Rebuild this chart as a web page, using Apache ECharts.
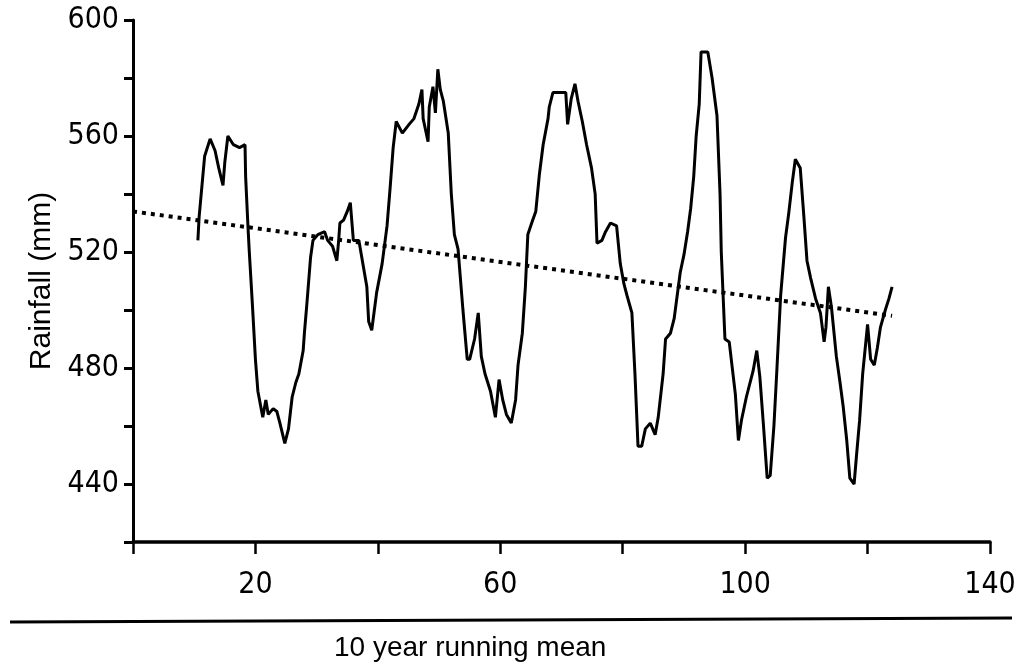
<!DOCTYPE html>
<html>
<head>
<meta charset="utf-8">
<script src="https://cdn.jsdelivr.net/npm/echarts@6/dist/echarts.min.js"></script>
<style>
  html, body { margin: 0; padding: 0; background: #fff; }
  #chart { width: 1014px; height: 668px; }
</style>
</head>
<body>
<div id="chart"></div>
<script>
  // 10 year running mean of rainfall
  var years = [
    10.6, 10.8, 11.4, 11.7, 12.6, 13.4, 14.0, 14.7, 15.0, 15.5, 16.4, 17.4, 18.3, 18.4, 18.8, 19.0,
    19.5, 20.0, 20.4, 21.2, 21.7, 22.1, 22.9, 23.5, 24.0, 24.8, 25.4, 26.0, 26.6, 27.1, 27.8, 28.0,
    28.4, 29.0, 29.4, 30.2, 31.3, 31.8, 32.6, 33.3, 33.6, 33.8, 34.4, 35.0, 35.5, 36.0, 36.9, 38.2,
    38.5, 39.0, 39.8, 40.7, 41.5, 42.0, 42.5, 43.0, 44.0, 45.1, 45.9, 46.7, 47.2, 47.4, 48.2, 48.4,
    49.0, 49.4, 49.8, 50.2, 50.7, 51.5, 52.0, 52.5, 53.1, 53.9, 54.6, 55.0, 55.8, 56.4, 56.9, 57.5,
    58.4, 59.2, 59.8, 60.4, 61.0, 61.8, 62.5, 62.9, 63.6, 64.1, 64.5, 65.3, 65.8, 66.4, 67.0, 67.8,
    68.0, 68.6, 70.7, 71.0, 71.6, 72.2, 72.7, 73.4, 74.1, 74.9, 75.5, 75.8, 76.6, 77.2, 78.0, 79.0,
    79.6, 80.2, 80.7, 81.5, 82.0, 82.5, 83.1, 83.7, 84.5, 85.3, 85.8, 86.6, 87.0, 87.8, 88.4, 88.9,
    89.4, 90.0, 90.6, 91.1, 91.6, 92.0, 92.5, 92.8, 93.9, 94.6, 95.4, 95.9, 96.1, 96.7, 97.4, 98.4,
    98.9, 99.4, 100.2, 101.3, 101.9, 102.4, 103.0, 103.6, 104.1, 104.7, 105.2, 105.8, 106.6, 107.1, 107.7, 108.2,
    109.0, 109.6, 110.1, 110.7, 111.5, 112.3, 112.9, 113.2, 113.6, 114.1, 114.9, 115.5, 116.0, 116.6, 117.1, 117.8,
    118.2, 118.7, 119.2, 120.0, 120.5, 121.1, 121.6, 122.1, 122.9, 123.5, 124.0
  ]
  var rainfall = [
    524, 532, 546, 553, 559, 555, 549, 543, 551, 560, 557, 556, 557, 546, 528, 520,
    502, 483, 472, 463, 469, 464, 466, 465, 461, 454, 459, 470, 475, 478, 486, 492,
    502, 518, 524, 526, 527, 524, 522, 517, 524, 530, 531, 534, 537, 524, 524, 508,
    496, 493, 506, 516, 529, 542, 556, 565, 561, 564, 566, 571, 576, 566, 558, 570,
    577, 568, 583, 576, 572, 561, 540, 526, 521, 500, 483, 483, 490, 499, 484, 478,
    472, 463, 476, 469, 464, 461, 469, 481, 492, 508, 526, 531, 534, 547, 557, 566,
    570, 575, 575, 564, 573, 578, 572, 565, 557, 549, 540, 523, 524, 527, 530, 529,
    516, 509, 505, 499, 478, 453, 453, 459, 461, 457, 463, 478, 490, 492, 497, 505,
    513, 519, 527, 535, 546, 560, 571, 589, 589, 580, 567, 540, 520, 490, 489, 471,
    455, 462, 470, 479, 486, 477, 460, 442, 443, 460, 480, 505, 525, 533, 544, 552,
    549, 532, 517, 511, 504, 499, 489, 494, 508, 501, 484, 475, 467, 455, 442, 440,
    450, 462, 478, 495, 483, 481, 487, 494, 500, 504, 508
  ]
  // linear trend, end points
  var trendYears = [0, 124]
  var trendValues = [534, 498]

  var xLabels = [20, 60, 100, 140]
  var yLabels = [440, 480, 520, 560, 600]

  var runData = years.map(function (y, i) { return [y, rainfall[i]] })
  var trendData = trendYears.map(function (y, i) { return [y, trendValues[i]] })

  var tickFont = '"DejaVu Sans Condensed", "Liberation Sans Narrow", sans-serif'
  var textFont = '"Liberation Sans", Arial, sans-serif'

  var chart = echarts.init(document.getElementById('chart'), null, {renderer: 'canvas'})
  chart.setOption({
    backgroundColor: '#fff',
    animation: false,
    grid: {left: 133, right: 24, top: 20, bottom: 126, outerBoundsMode: 'none'},
    xAxis: {
      type: 'value',
      min: 0,
      max: 140,
      interval: 20,
      splitLine: {show: false},
      axisLine: {lineStyle: {color: '#000', width: 3.5}},
      axisTick: {length: 12, lineStyle: {color: '#000', width: 2.5}},
      axisLabel: {
        margin: 28,
        color: '#000',
        fontSize: 30,
        fontFamily: tickFont,
        formatter: function (v) { return xLabels.indexOf(v) >= 0 ? String(v) : '' }
      }
    },
    yAxis: {
      type: 'value',
      min: 420,
      max: 600,
      interval: 20,
      name: 'Rainfall (mm)',
      nameLocation: 'middle',
      nameGap: 72,
      nameTextStyle: {color: '#000', fontSize: 30, fontFamily: textFont},
      splitLine: {show: false},
      axisLine: {lineStyle: {color: '#000', width: 3}},
      axisTick: {length: 9, lineStyle: {color: '#000', width: 3}},
      axisLabel: {
        margin: 14,
        color: '#000',
        fontSize: 30,
        fontFamily: tickFont,
        formatter: function (v) { return yLabels.indexOf(v) >= 0 ? String(v) : '' }
      }
    },
    graphic: [
      {
        type: 'line',
        shape: {x1: 10, y1: 622, x2: 1012, y2: 618},
        style: {stroke: '#000', lineWidth: 3}
      },
      {
        type: 'text',
        left: 334,
        top: 634,
        style: {
          text: '10 year running mean',
          fill: '#000',
          fontSize: 28,
          fontFamily: textFont
        }
      }
    ],
    series: [
      {
        name: 'trend',
        type: 'line',
        data: trendData,
        symbol: 'none',
        lineStyle: {color: '#000', width: 4, type: [4, 5]}
      },
      {
        name: 'running mean',
        type: 'line',
        data: runData,
        symbol: 'none',
        lineStyle: {color: '#000', width: 3}
      }
    ]
  })
</script>
</body>
</html>
